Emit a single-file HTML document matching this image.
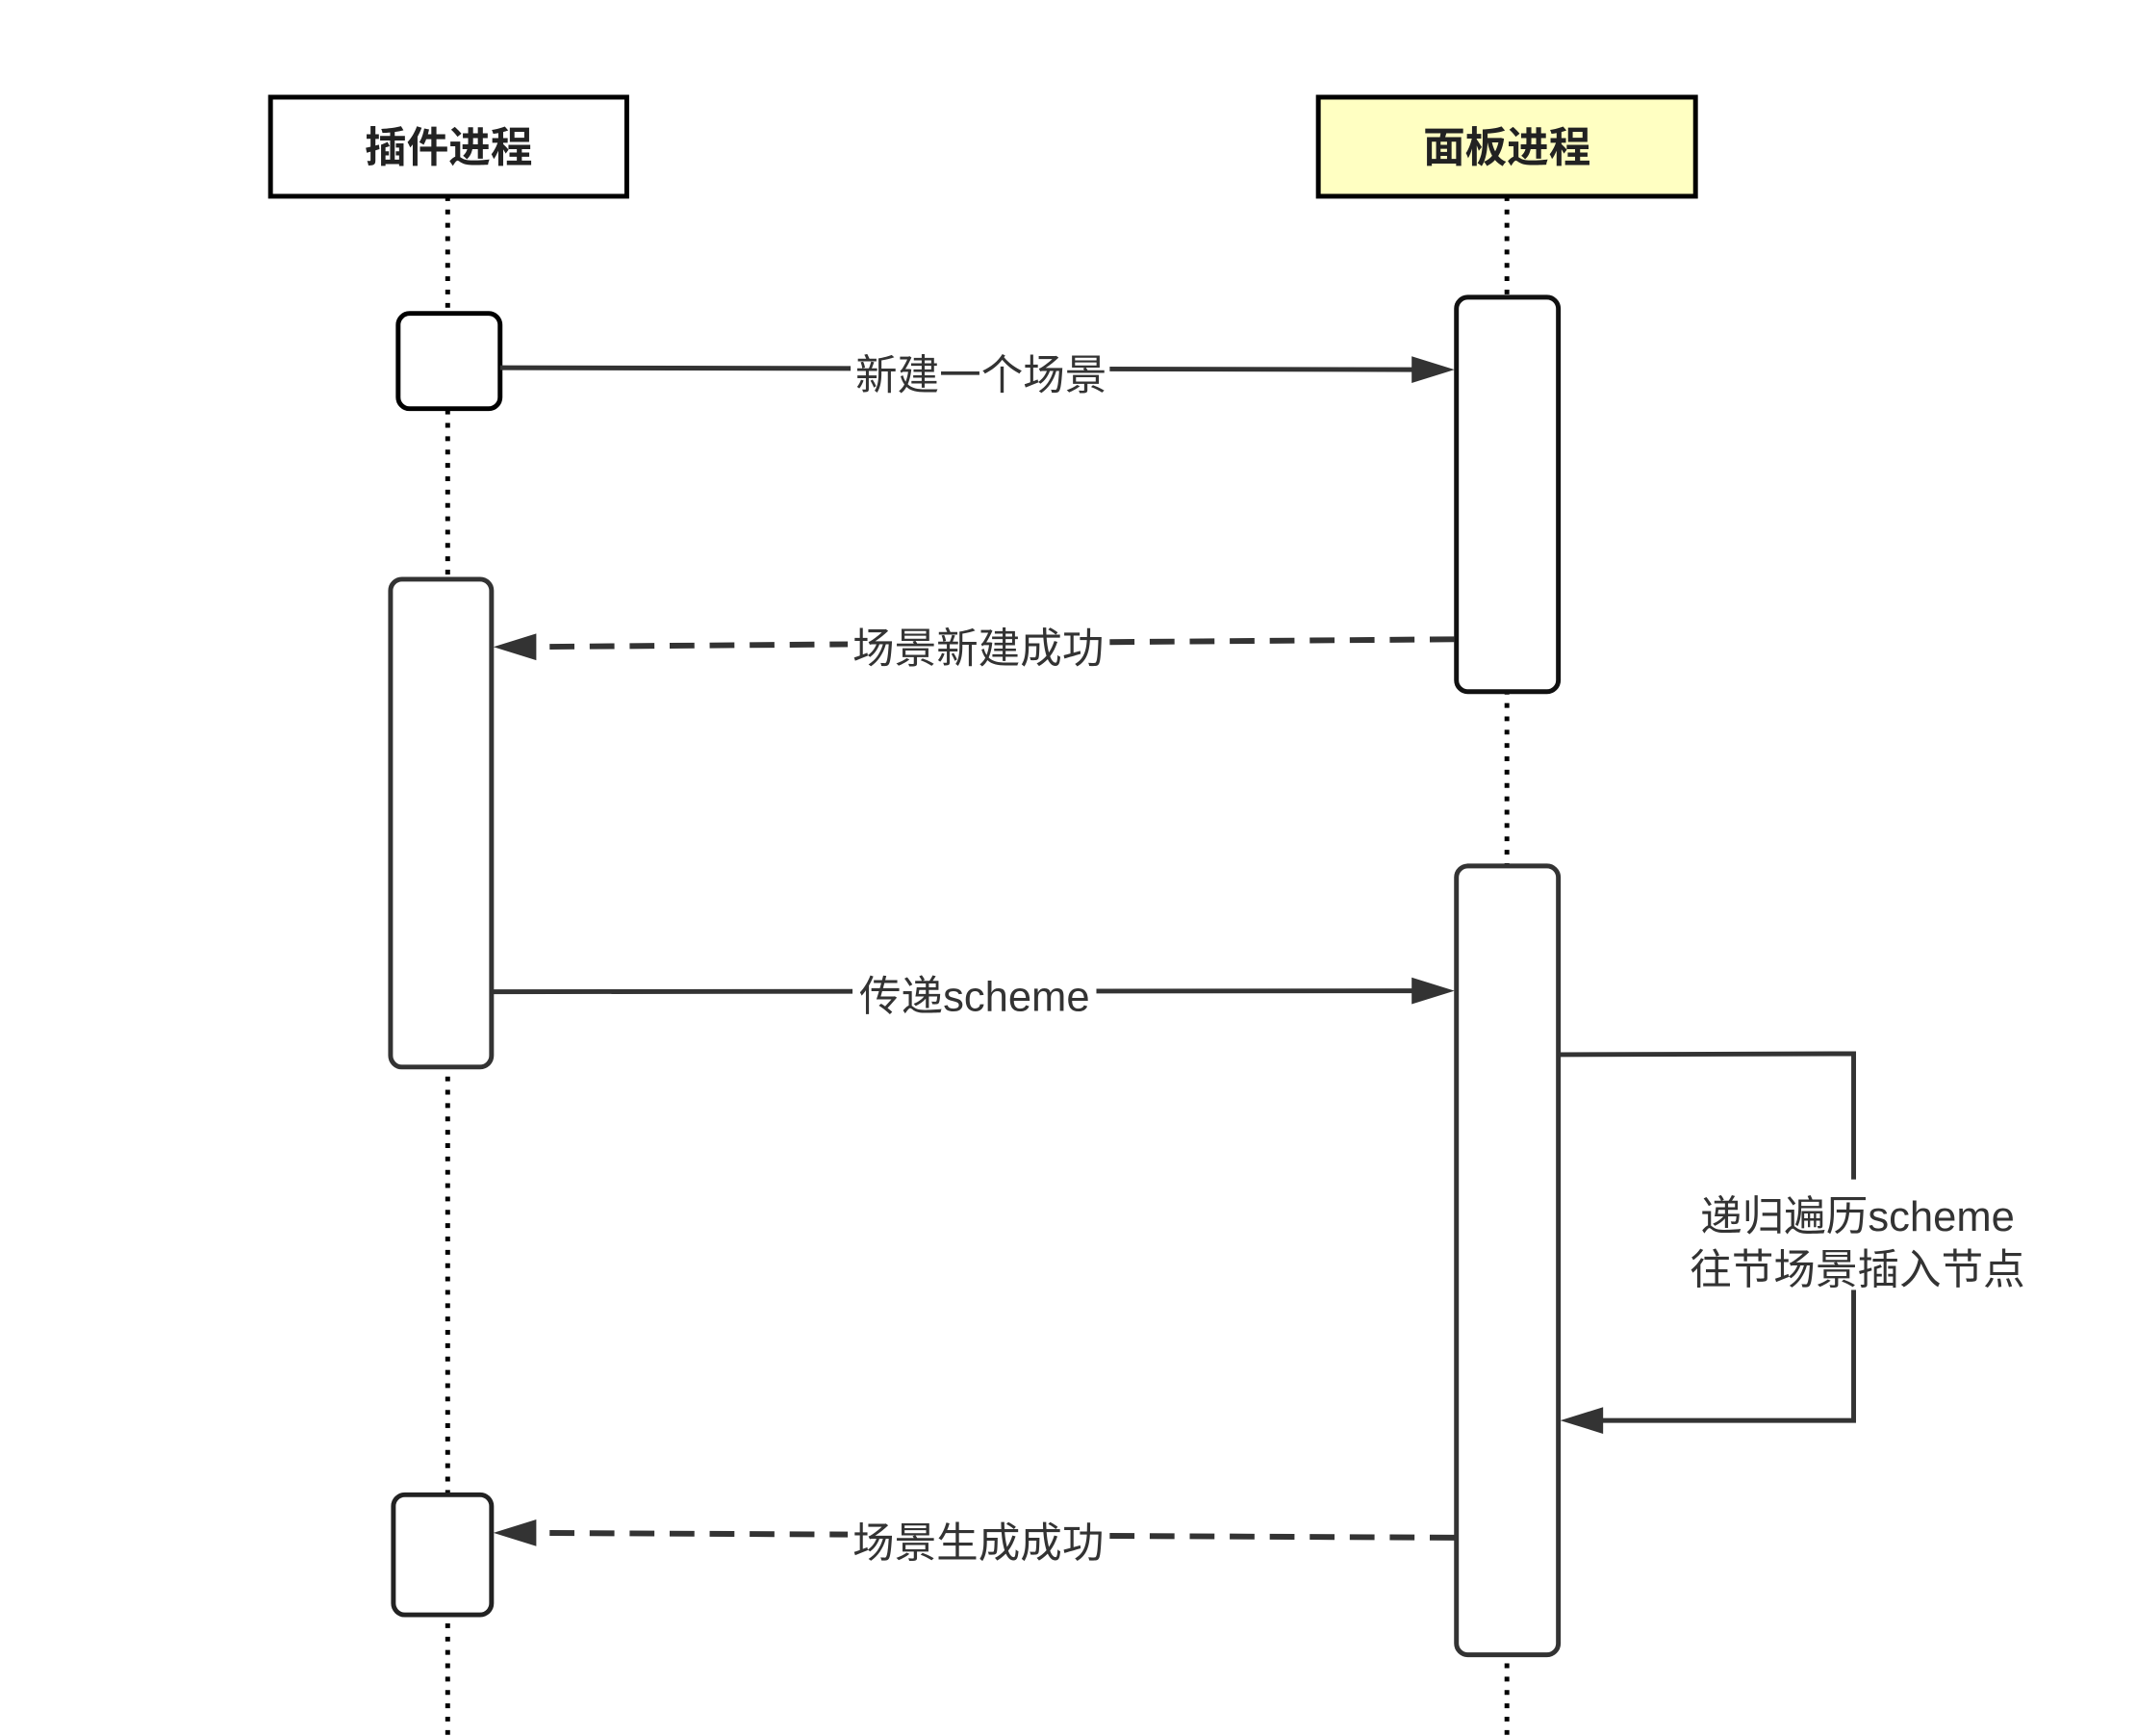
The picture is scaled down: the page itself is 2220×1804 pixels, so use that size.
<!DOCTYPE html>
<html><head><meta charset="utf-8"><style>
html,body{margin:0;padding:0;background:#fff;}
svg{display:block;}
text{font-family:"Liberation Sans","Noto Sans CJK SC",sans-serif;fill:#333;}
</style></head><body>
<svg width="2220" height="1804" viewBox="0 0 2220 1804" xmlns="http://www.w3.org/2000/svg">
<g transform="scale(0.99)">
<!-- lifelines -->
<line x1="470" y1="206" x2="470" y2="1830" stroke="#000" stroke-width="5" stroke-dasharray="5 9"/>
<line x1="1582" y1="206" x2="1582" y2="1830" stroke="#000" stroke-width="5" stroke-dasharray="5 9"/>
<!-- headers -->
<rect x="284" y="102" width="374" height="104" fill="#fff" stroke="#000" stroke-width="5"/>
<text x="471" y="170" text-anchor="middle" font-size="44" font-weight="bold" style="fill:#222">插件进程</text>
<rect x="1384" y="102" width="396" height="104" fill="#ffffc2" stroke="#000" stroke-width="5"/>
<text x="1582" y="170" text-anchor="middle" font-size="44" font-weight="bold" style="fill:#222">面板进程</text>
<!-- activations -->
<rect x="418" y="329" width="107" height="100" rx="12" fill="#fff" stroke="#000" stroke-width="5"/>
<rect x="410" y="608" width="106" height="512" rx="12" fill="#fff" stroke="#333" stroke-width="5"/>
<rect x="413" y="1569" width="103" height="126" rx="12" fill="#fff" stroke="#222" stroke-width="5"/>
<rect x="1529" y="312" width="107" height="414" rx="12" fill="#fff" stroke="#111" stroke-width="5"/>
<rect x="1529" y="909" width="107" height="828" rx="12" fill="#fff" stroke="#333" stroke-width="5"/>
<!-- msg1 -->
<line x1="525" y1="386" x2="1490" y2="388" stroke="#333" stroke-width="5"/>
<polygon points="1527,388 1482,374 1482,402" fill="#333"/>
<rect x="893" y="364" width="272" height="54" fill="#fff"/>
<text x="1030" y="409" text-anchor="middle" font-size="44">新建一个场景</text>
<!-- msg2 -->
<line x1="1527" y1="671" x2="556" y2="679" stroke="#333" stroke-width="6" stroke-dasharray="26 16"/>
<polygon points="518,679 563,665 563,693" fill="#333"/>
<rect x="890" y="651" width="272" height="54" fill="#fff"/>
<text x="1027" y="696" text-anchor="middle" font-size="44">场景新建成功</text>
<!-- msg3 -->
<line x1="516" y1="1041" x2="1490" y2="1040" stroke="#333" stroke-width="5"/>
<polygon points="1527,1040 1482,1026 1482,1054" fill="#333"/>
<rect x="895" y="1017" width="256" height="54" fill="#fff"/>
<text x="1023" y="1061" text-anchor="middle" font-size="44">传递scheme</text>
<!-- self loop -->
<polyline points="1636,1107 1946,1106 1946,1491 1680,1491" fill="none" stroke="#333" stroke-width="5"/>
<polygon points="1638,1491 1683,1477 1683,1505" fill="#333"/>
<rect x="1768" y="1238" width="364" height="116" fill="#fff"/>
<text x="1950" y="1292" text-anchor="middle" font-size="44">递归遍历scheme</text>
<text x="1950" y="1348" text-anchor="middle" font-size="44">往节场景插入节点</text>
<!-- msg4 -->
<line x1="1527" y1="1614" x2="556" y2="1609" stroke="#333" stroke-width="6" stroke-dasharray="26 16"/>
<polygon points="518,1609 563,1595 563,1623" fill="#333"/>
<rect x="890" y="1591" width="272" height="54" fill="#fff"/>
<text x="1027" y="1635" text-anchor="middle" font-size="44">场景生成成功</text>
</g>
</svg>
</body></html>
